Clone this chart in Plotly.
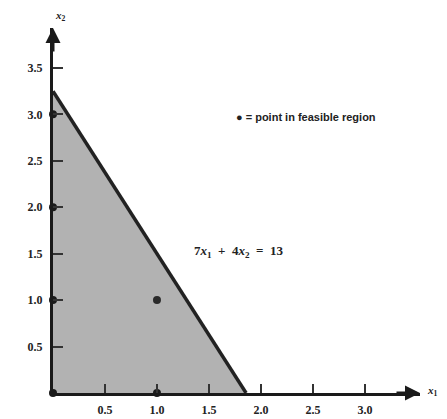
import plotly.graph_objects as go

# Constraint 7*x1 + 4*x2 = 13
coef_x1, coef_x2, rhs = 7, 4, 13
# Integer points in the feasible region
pts_x1 = [0, 0, 0, 0, 1]
pts_x2 = [0, 1, 2, 3, 0]
interior_x1 = [1]
interior_x2 = [1]
x_ticks = [0.5, 1.0, 1.5, 2.0, 2.5, 3.0]
x_tick_labels = ["0.5", "1.0", "1.5", "2.0", "2.5", "3.0"]
y_ticks = [0.5, 1.0, 1.5, 2.0, 2.5, 3.0, 3.5]
y_tick_labels = ["0.5", "1.0", "1.5", "2.0", "2.5", "3.0", "3.5"]

x1_int = rhs / coef_x1
x2_int = rhs / coef_x2

fig = go.Figure()
# feasible region
fig.add_trace(go.Scatter(x=[0, 0, x1_int, 0], y=[0, x2_int, 0, 0], mode="lines",
                         fill="toself", fillcolor="#b2b2b2", line=dict(width=0),
                         hoverinfo="skip", showlegend=False))
# constraint line
fig.add_trace(go.Scatter(x=[0, x1_int], y=[x2_int, 0], mode="lines",
                         line=dict(color="#222222", width=3.5), cliponaxis=False,
                         showlegend=False))
# lattice points on axes
fig.add_trace(go.Scatter(x=pts_x1, y=pts_x2, mode="markers",
                         marker=dict(color="#1a1a1a", size=8), cliponaxis=False,
                         showlegend=False))
fig.add_trace(go.Scatter(x=interior_x1, y=interior_x2, mode="markers",
                         marker=dict(color="#2a2a2a", size=8), cliponaxis=False,
                         showlegend=False))

tickfont = dict(family="Liberation Serif", size=12, color="#222222")
fig.update_xaxes(range=[0, 3.53], showgrid=False, zeroline=False, automargin=False,
                 showline=True, linecolor="#1a1a1a", linewidth=3,
                 ticks="inside", ticklen=9, tickwidth=1.5, tickcolor="#333333",
                 tickvals=x_ticks, ticktext=["<b>%s</b>" % t for t in x_tick_labels],
                 tickfont=tickfont, ticklabelstandoff=4)
fig.update_yaxes(range=[0, 3.93], showgrid=False, zeroline=False, automargin=False,
                 showline=True, linecolor="#1a1a1a", linewidth=3,
                 ticks="inside", ticklen=10, tickwidth=1.5, tickcolor="#333333",
                 tickvals=y_ticks, ticktext=["<b>%s</b>" % t for t in y_tick_labels],
                 tickfont=tickfont, ticklabelstandoff=5)

# arrowheads
fig.add_annotation(x=0, y=1.0, xref="paper", yref="paper", ax=0, ay=25,
                   showarrow=True, arrowhead=2, arrowsize=1, arrowwidth=3,
                   arrowcolor="#1a1a1a", text="", standoff=0)
fig.add_annotation(x=1.0, y=0, xref="paper", yref="paper", ax=-25, ay=0,
                   showarrow=True, arrowhead=2, arrowsize=1, arrowwidth=3,
                   arrowcolor="#1a1a1a", text="", standoff=0)
# axis titles
fig.add_annotation(x=0, y=1.0, xref="paper", yref="paper", yshift=3, showarrow=False,
                   text="<b><i>x</i><sub>2</sub></b>", yanchor="bottom",
                   font=dict(family="Liberation Serif", size=11, color="#222222"))
fig.add_annotation(x=1.0, y=0, xref="paper", yref="paper", xshift=5, yshift=-7,
                   showarrow=False, text="<b><i>x</i><sub>1</sub></b>", xanchor="left",
                   font=dict(family="Liberation Serif", size=11, color="#222222"))
# legend text
fig.add_annotation(x=2.43, y=2.97, showarrow=False,
                   text="<b>● = point in feasible region</b>",
                   font=dict(family="Liberation Sans Narrow, Liberation Sans", size=11, color="#222222"))
# equation label
fig.add_annotation(x=1.78, y=1.52, showarrow=False,
                   text="<b>7<i>x</i><sub>1</sub>&nbsp;&nbsp;+&nbsp;&nbsp;4<i>x</i><sub>2</sub>&nbsp;&nbsp;=&nbsp;&nbsp;13</b>",
                   font=dict(family="Liberation Serif", size=13, color="#222222"))

# page body has an 8px default margin, so the figure is 8px smaller on each axis
fig.update_layout(width=439, height=411, margin=dict(l=45, r=27, t=20, b=26),
                  plot_bgcolor="white", paper_bgcolor="white", showlegend=False)
fig.write_html("out.html")
